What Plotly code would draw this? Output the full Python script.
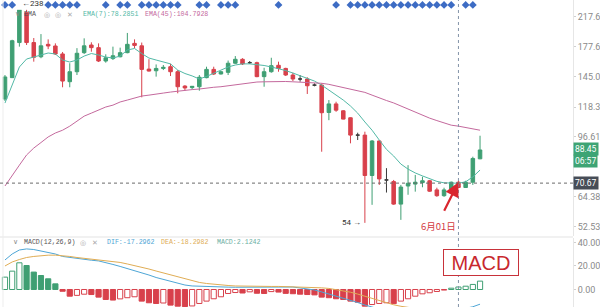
import numpy as np
import plotly.graph_objects as go

# ---------------- daily candles ----------------
opens = [124.8, 144.3, 183.0, 224.0, 183.0, 166.2, 180.8, 178.8, 169.4, 140.4,
         150.2, 170.9, 180.0, 176.8, 161.5, 164.2, 166.2, 170.9, 182.0, 179.0,
         152.9, 151.2, 153.6, 155.4, 150.2, 136.3, 134.9, 135.7, 144.3, 152.6,
         147.9, 149.6, 159.1, 163.4, 159.7, 159.7, 145.3, 150.2, 156.9, 153.6,
         146.9, 143.0, 143.0, 137.2, 137.2, 114.0, 120.8, 115.3, 110.0, 97.8,
         97.8, 74.4, 94.0, 72.2, 71.4, 61.3, 69.3, 70.2, 70.9, 71.8,
         67.5, 64.9, 67.8, 71.1, 68.6, 71.1, 83.3]
highs = [146.9, 186.5, 238.0, 235.0, 188.7, 193.8, 187.0, 182.0, 171.7, 159.1,
         176.2, 188.3, 183.3, 182.0, 169.0, 178.0, 176.8, 195.3, 187.0, 183.0,
         163.5, 157.8, 157.2, 158.4, 151.9, 137.2, 136.3, 146.9, 155.4, 155.4,
         150.9, 162.0, 167.0, 164.6, 161.5, 160.8, 154.3, 165.1, 160.8, 154.3,
         149.2, 146.9, 144.7, 138.8, 138.8, 124.0, 122.6, 115.8, 110.3, 99.4,
         100.1, 94.6, 94.6, 78.2, 72.2, 69.8, 79.8, 74.7, 73.8, 72.2,
         68.5, 68.5, 71.4, 71.8, 71.8, 84.5, 97.4]
lows = [123.2, 144.0, 178.0, 180.0, 160.8, 164.6, 175.0, 168.2, 135.2, 135.2,
        146.9, 169.4, 172.0, 160.4, 159.7, 162.6, 165.6, 170.2, 176.2, 126.3,
        150.4, 145.3, 151.9, 145.9, 129.8, 132.1, 133.4, 132.1, 143.7, 146.9,
        147.5, 146.9, 158.4, 157.2, 158.4, 144.7, 135.7, 149.2, 150.2, 145.9,
        141.0, 140.4, 129.2, 136.1, 87.4, 108.2, 114.5, 108.8, 92.5, 94.6,
        54.0, 61.0, 69.8, 66.3, 61.0, 55.1, 65.3, 66.7, 68.7, 66.6,
        64.4, 64.4, 67.5, 68.5, 68.5, 69.8, 83.1]
closes = [145.0, 185.3, 229.3, 183.0, 165.6, 179.0, 178.8, 169.4, 141.0, 150.2,
          170.2, 179.0, 176.8, 161.5, 165.1, 167.4, 170.9, 180.8, 179.5, 152.6,
          150.9, 153.6, 154.7, 150.2, 135.7, 134.6, 136.1, 144.7, 152.6, 147.9,
          150.2, 159.1, 163.4, 158.4, 159.7, 145.3, 150.2, 156.5, 153.6, 146.9,
          143.0, 143.0, 136.6, 137.2, 113.8, 120.8, 115.8, 109.0, 97.8, 97.8,
          74.4, 94.0, 72.7, 72.2, 61.3, 68.8, 70.6, 71.1, 71.8, 66.9,
          64.9, 67.5, 71.1, 68.6, 71.1, 83.5, 88.45]

# ---------------- moving averages ----------------
ema7 = [121.5, 137.2, 155.1, 163.7, 165.9, 168.2, 170.5, 169.4, 162.6, 160.4,
        162.6, 167.0, 169.9, 168.2, 165.9, 164.8, 167.0, 174.0, 175.8, 169.9,
        164.8, 162.6, 160.4, 158.4, 151.9, 148.4, 146.0, 143.0, 145.5, 148.9,
        151.9, 155.1, 157.2, 158.4, 158.4, 157.8, 156.7, 155.1, 153.6, 151.4,
        148.9, 146.4, 144.0, 141.0, 137.2, 132.7, 128.2, 124.0, 119.1, 113.5,
        106.9, 101.1, 94.6, 88.8, 84.9, 80.4, 77.7, 75.7, 74.2, 72.7,
        71.5, 70.8, 70.6, 70.6, 71.3, 73.7, 77.2]
ema45 = [69.3, 74.7, 79.8, 85.5, 89.6, 93.0, 96.6, 99.2, 101.1, 103.9,
         107.5, 111.2, 113.5, 115.8, 118.3, 119.8, 122.4, 124.0, 125.7, 127.4,
         128.2, 129.4, 130.0, 130.9, 131.8, 132.7, 133.1, 133.6, 134.6, 135.2,
         135.7, 136.6, 137.2, 138.2, 139.1, 140.1, 140.3, 140.5, 140.6, 140.6,
         140.3, 140.1, 139.8, 139.3, 138.9, 137.9, 136.5, 135.2, 133.9, 132.4,
         130.6, 128.2, 126.2, 123.6, 121.6, 119.1, 116.6, 114.3, 112.0, 109.7,
         107.9, 106.1, 104.6, 103.9, 102.9, 101.8, 101.1]

# ---------------- MACD(12,26,9) ----------------
dif = [25.1, 30.2, 33.6, 34.5, 34.0, 32.8, 31.9, 30.2, 28.1, 27.2,
       26.4, 25.7, 24.9, 24.3, 23.0, 21.3, 19.6, 17.9, 16.2, 14.5,
       12.3, 10.2, 8.5, 6.8, 5.1, 3.8, 3.0, 2.7, 2.6, 2.4,
       2.1, 2.0, 1.9, 1.9, 2.0, 2.1, 2.3, 2.4, 2.4, 2.3,
       2.1, 1.3, 0.4, -0.4, -2.1, -3.8, -5.5, -7.2, -8.9, -11.1,
       -13.2, -15.2, -16.6, -17.8, -19.0, -19.5, -19.5, -19.3, -19.0, -19.0,
       -18.9, -18.6, -17.9, -17.3, -16.2, -14.7, -12.5]
dea = [20.0, 23.4, 25.5, 27.2, 28.1, 28.8, 29.2, 29.2, 28.8, 28.1,
       27.2, 26.6, 26.0, 25.4, 24.7, 23.8, 23.0, 21.7, 20.4, 19.1,
       17.4, 15.7, 14.0, 12.3, 10.6, 8.9, 7.2, 6.0, 5.1, 4.4,
       3.8, 3.4, 3.0, 2.8, 2.7, 2.6, 2.6, 2.6, 2.6, 2.5,
       2.4, 2.3, 2.1, 1.9, 1.4, 0.9, 0.0, -0.9, -2.3, -3.9,
       -5.8, -7.9, -9.8, -11.6, -13.0, -14.3, -15.4, -16.3, -17.0, -17.6,
       -18.0, -18.3, -18.4, -18.3, -17.8, -17.0, -15.9]
macd_hist = [10.5, 15.6, 22.7, 20.4, 14.8, 11.9, 9.1, 4.8, -1.5, -5.7,
             -5.0, -4.0, -4.3, -6.5, -8.5, -9.0, -8.0, -7.0, -6.2, -9.9,
             -11.3, -11.9, -11.5, -13.3, -14.2, -14.5, -14.0, -11.9, -9.9, -7.9,
             -6.2, -3.4, -2.6, -3.0, -2.0, -3.2, -3.4, -1.8, -2.2, -3.3,
             -3.6, -4.0, -4.3, -4.6, -6.5, -7.0, -7.9, -8.5, -9.9, -10.8,
             -14.2, -12.8, -11.9, -11.3, -12.0, -9.9, -7.9, -5.7, -3.7, -2.8,
             -1.7, -0.5, 1.1, 2.12, 2.8, 4.3, 7.1]

# candles flagged with a signal marker in the top strip
signal_idx = [0, 1, 6, 7, 8, 9, 10, 14, 16, 17, 19, 20, 21, 22, 23, 24, 27, 28,
              30, 31, 32, 38, 46, 48, 49, 50, 51, 52, 53, 54, 55, 56, 57, 58,
              59, 60, 61, 62, 64, 65]

price_ticks = [52.53, 64.38, 96.61, 118.3, 145.0, 177.6, 217.6]
price_tick_text = ["52.53", "64.38", "96.61", "118.3", "145.0", "177.6", "217.6"]
macd_ticks = [0, 20, 40]
macd_tick_text = ["0.00", "20.00", "40.00"]

last_price = 88.45
countdown = "06:57"
cursor_price = 70.67
cursor_idx = 63
cursor_label = "6月01日"
high_idx, high_val = 2, 238
low_idx, low_val = 50, 54

legend_ema7 = "EMA(7):78.2851"
legend_ema45 = "EMA(45):104.7928"
legend_dif = "DIF:-17.2962"
legend_dea = "DEA:-18.2982"
legend_macd = "MACD:2.1242"

# ---------------- styling ----------------
UP = "#3f9f73"
DOWN = "#d8404b"
DOJI = "#3a3a3a"
EMA7_C = "#52b9a6"
EMA45_C = "#c4699d"
DIF_C = "#4ea6d6"
DEA_C = "#e0ad55"
AXIS_TXT = "#8a8a8a"
MONO = "Liberation Mono"

W, H = 600, 307
PLOT_W = 575          # plotting width (right margin holds the price scale)
STEP = 7.223          # pixels per candle
x_lo = -5 / STEP
x_hi = x_lo + PLOT_W / STEP

n = len(opens)
idx = np.arange(n)
o = np.array(opens); h = np.array(highs); l = np.array(lows); c = np.array(closes)
doji = np.isclose(o, c)

fig = go.Figure()

# candles
fig.add_trace(go.Candlestick(
    x=idx[~doji], open=o[~doji], high=h[~doji], low=l[~doji], close=c[~doji],
    increasing=dict(line=dict(color=UP, width=1), fillcolor=UP),
    decreasing=dict(line=dict(color=DOWN, width=1), fillcolor=DOWN),
    whiskerwidth=0, xaxis="x", yaxis="y", hoverinfo="skip", showlegend=False))
fig.add_trace(go.Candlestick(
    x=idx[doji], open=o[doji], high=h[doji], low=l[doji], close=c[doji],
    increasing=dict(line=dict(color=DOJI, width=1), fillcolor=DOJI),
    decreasing=dict(line=dict(color=DOJI, width=1), fillcolor=DOJI),
    whiskerwidth=0, xaxis="x", yaxis="y", hoverinfo="skip", showlegend=False))

# EMA lines
fig.add_trace(go.Scatter(x=idx, y=ema7, mode="lines", line=dict(color=EMA7_C, width=1),
                         xaxis="x", yaxis="y", hoverinfo="skip"))
fig.add_trace(go.Scatter(x=idx, y=ema45, mode="lines", line=dict(color=EMA45_C, width=1),
                         xaxis="x", yaxis="y", hoverinfo="skip"))

# signal diamonds along the top strip
fig.add_trace(go.Scatter(x=signal_idx, y=[0.5] * len(signal_idx), mode="markers",
                         marker=dict(symbol="diamond", size=6, color="#3d6cc4"),
                         xaxis="x", yaxis="y3", hoverinfo="skip"))

# MACD histogram: filled when falling, hollow when rising
hist = np.array(macd_hist)
rising = np.r_[True, hist[1:] >= hist[:-1]]
edge = np.where(hist >= 0, UP, DOWN)
fill = np.where(rising, "white", edge)
fig.add_trace(go.Bar(x=idx, y=hist, width=0.72,
                     marker=dict(color=list(fill), line=dict(color=list(edge), width=1)),
                     xaxis="x2", yaxis="y2", hoverinfo="skip"))
fig.add_trace(go.Scatter(x=idx, y=dif, mode="lines", line=dict(color=DIF_C, width=1),
                         xaxis="x2", yaxis="y2", hoverinfo="skip"))
fig.add_trace(go.Scatter(x=idx, y=dea, mode="lines", line=dict(color=DEA_C, width=1),
                         xaxis="x2", yaxis="y2", hoverinfo="skip"))

main_bottom = 1 - 236 / H
macd_top = 1 - 238 / H
sep_y = 1 - 237 / H

fig.update_layout(
    width=W, height=H, margin=dict(l=0, r=W - PLOT_W, t=0, b=0),
    paper_bgcolor="white", plot_bgcolor="white", showlegend=False,
    xaxis=dict(domain=[0, 1], range=[x_lo, x_hi], visible=False, anchor="y",
               rangeslider=dict(visible=False)),
    xaxis2=dict(domain=[0, 1], range=[x_lo, x_hi], visible=False, anchor="y2", matches="x"),
    yaxis=dict(domain=[main_bottom, 1], type="log",
               range=[np.log10(49.4), np.log10(244.1)], side="right", anchor="x",
               tickvals=price_ticks, ticktext=price_tick_text,
               ticks="outside", ticklen=2, tickcolor="#d0d0d0",
               showline=True, linecolor="#e6e6e6", linewidth=1,
               showgrid=False, zeroline=False,
               tickfont=dict(family="Roboto", size=9, color=AXIS_TXT)),
    yaxis2=dict(domain=[0, macd_top], range=[-14.9, 43.8], side="right", anchor="x2",
                tickvals=macd_ticks, ticktext=macd_tick_text,
                ticks="outside", ticklen=2, tickcolor="#d0d0d0",
                showline=True, linecolor="#e6e6e6", linewidth=1,
                showgrid=False, zeroline=False,
                tickfont=dict(family="Roboto", size=9, color=AXIS_TXT)),
    yaxis3=dict(domain=[0.968, 1], range=[0, 1], visible=False, anchor="x"),
)

shapes = [
    # pane separator
    dict(type="line", xref="paper", yref="paper", x0=0, x1=1, y0=sep_y, y1=sep_y,
         line=dict(color="#e3e3e3", width=1)),
    # left frame line
    dict(type="line", xref="paper", yref="paper", x0=3 / PLOT_W, x1=3 / PLOT_W, y0=0, y1=1,
         line=dict(color="#ededed", width=1)),
    # crosshair
    dict(type="line", xref="x", yref="paper", x0=cursor_idx, x1=cursor_idx, y0=0, y1=1,
         line=dict(color="#8393a8", width=1, dash="3px,3px")),
    dict(type="line", xref="paper", yref="y", x0=0, x1=1, y0=cursor_price, y1=cursor_price,
         line=dict(color="#6a6a6a", width=1, dash="3px,3px")),
]
fig.update_layout(shapes=shapes)


def px(xp):
    return xp / PLOT_W


def py(yp):
    return 1 - yp / H


ann = []
# top legend row
ann += [
    dict(x=px(14), y=py(14), text="∨", font=dict(family=MONO, size=7, color="#888")),
    dict(x=px(23), y=py(14), text="EMA", font=dict(family=MONO, size=6.6, color="#555")),
    dict(x=px(43), y=py(14), text="◎", font=dict(size=7, color="#aaa")),
    dict(x=px(54), y=py(14), text="◎", font=dict(size=7, color="#aaa")),
    dict(x=px(66), y=py(14), text="✕", font=dict(size=6.5, color="#aaa")),
    dict(x=px(82), y=py(14), text=legend_ema7, font=dict(family=MONO, size=6.6, color=EMA7_C)),
    dict(x=px(145), y=py(14), text=legend_ema45, font=dict(family=MONO, size=6.6, color=EMA45_C)),
]
# MACD legend row
ann += [
    dict(x=px(12), y=py(242), text="∨", font=dict(family=MONO, size=7, color="#888")),
    dict(x=px(23), y=py(242), text="MACD(12,26,9)", font=dict(family=MONO, size=6.6, color="#555")),
    dict(x=px(79), y=py(242), text="◎", font=dict(size=7, color="#aaa")),
    dict(x=px(91), y=py(242), text="✕", font=dict(size=6.5, color="#aaa")),
    dict(x=px(106), y=py(242), text=legend_dif, font=dict(family=MONO, size=6.6, color=DIF_C)),
    dict(x=px(161), y=py(242), text=legend_dea, font=dict(family=MONO, size=6.6, color=DEA_C)),
    dict(x=px(217), y=py(242), text=legend_macd, font=dict(family=MONO, size=6.6, color="#6aae9f")),
]
for a in ann:
    a.update(xref="paper", yref="paper", xanchor="left", yanchor="middle",
             showarrow=False, borderpad=0)

# high / low marks
ann += [
    dict(xref="x", yref="y", x=high_idx, y=np.log10(high_val), text=f"←{high_val}",
         xanchor="left", yanchor="middle", xshift=1, showarrow=False,
         font=dict(family="Roboto", size=8, color="#333")),
    dict(xref="x", yref="y", x=low_idx, y=np.log10(low_val), text=f"{low_val} →",
         xanchor="right", yanchor="middle", xshift=-2, showarrow=False,
         font=dict(family="Roboto", size=8, color="#333")),
]

# price scale badges
ann += [
    dict(xref="paper", yref="y", x=1.0, y=np.log10(last_price), text=f"{last_price:.2f}",
         xanchor="left", yanchor="middle", yshift=1, showarrow=False, bgcolor="#3ea474",
         borderpad=1, font=dict(family="Roboto", size=8.5, color="white")),
    dict(xref="paper", yref="y", x=1.0, y=np.log10(last_price), text=countdown,
         xanchor="left", yanchor="middle", yshift=-11, showarrow=False, bgcolor="#3ea474",
         borderpad=1, font=dict(family="Roboto", size=8.5, color="white")),
    dict(xref="paper", yref="y", x=1.0, y=np.log10(cursor_price), text=f"{cursor_price:.2f}",
         xanchor="left", yanchor="middle", showarrow=False, bgcolor="#474d57",
         borderpad=1, font=dict(family="Roboto", size=8.5, color="white")),
]

# date callout with arrow
ann += [
    dict(xref="x", yref="y", x=cursor_idx, y=np.log10(opens[cursor_idx]), text="",
         showarrow=True, arrowhead=2, arrowsize=1.3, arrowwidth=2.2, arrowcolor="#d9262e",
         ax=-15, ay=30),
    dict(xref="x", yref="paper", x=cursor_idx, y=py(226), text=cursor_label,
         xanchor="right", yanchor="middle", showarrow=False,
         font=dict(family="Noto Sans CJK SC", size=9.5, color="#d33a3f")),
    dict(xref="paper", yref="paper", x=px(521), y=py(275.5), text="MACD",
         showarrow=False, width=74, height=25, bgcolor="white",
         bordercolor="#c8323a", borderwidth=1, borderpad=0,
         font=dict(family="Liberation Sans", size=20, color="#c8282e")),
]
fig.update_layout(annotations=ann)

fig.write_html("out.html")
